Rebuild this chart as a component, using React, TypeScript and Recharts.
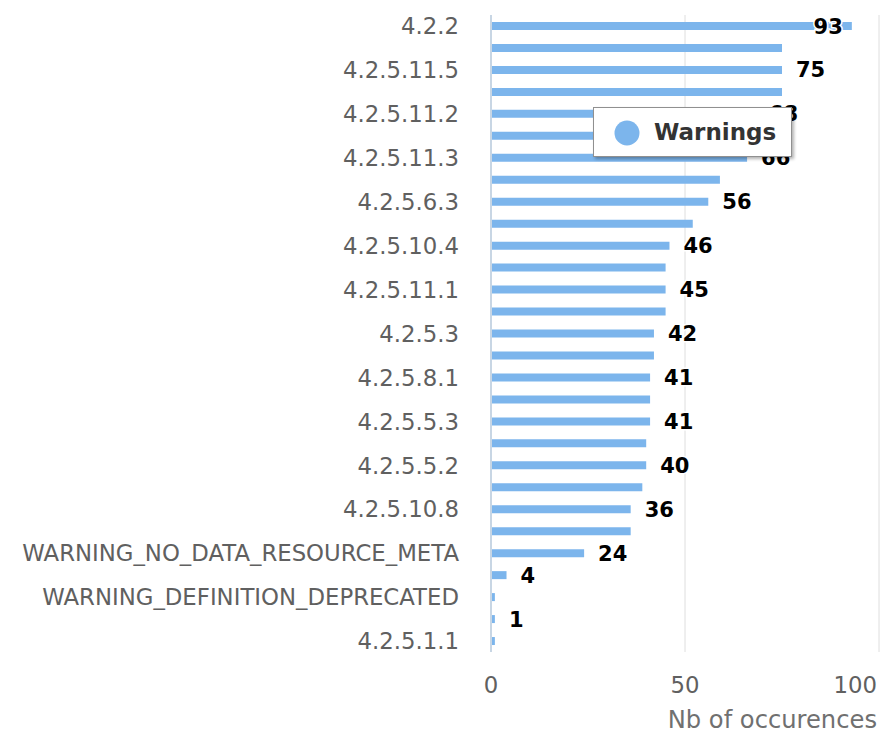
import React from "react";
import {
  Bar,
  BarChart,
  CartesianGrid,
  LabelList,
  Label,
  Legend,
  XAxis,
  YAxis,
} from "recharts";

// category names; null = label skipped by the original axis (name not visible)
const categories: (string | null)[] = [
  "4.2.2", null,
  "4.2.5.11.5", null,
  "4.2.5.11.2", null,
  "4.2.5.11.3", null,
  "4.2.5.6.3", null,
  "4.2.5.10.4", null,
  "4.2.5.11.1", null,
  "4.2.5.3", null,
  "4.2.5.8.1", null,
  "4.2.5.5.3", null,
  "4.2.5.5.2", null,
  "4.2.5.10.8", null,
  "WARNING_NO_DATA_RESOURCE_META", null,
  "WARNING_DEFINITION_DEPRECATED", null,
  "4.2.5.1.1",
];

const warnings = [
  93, 75, 75, 75, 68, 67, 66, 59, 56, 52, 46, 45, 45, 45, 42, 42, 41, 41, 41,
  40, 40, 39, 36, 36, 24, 4, 1, 1, 1,
];

const xTicks = [0, 50, 100];
const seriesName = "Warnings";
const axisTitle = "Nb of occurences";

const data = warnings.map((v, i) => ({ id: i, name: categories[i] ?? "", warnings: v }));

const FONT = "DejaVu Sans, sans-serif";
const BLUE = "#7CB5EC";

const W = 883;
const H = 735;
const MARGIN = { top: 15, right: 4, bottom: 0, left: 0 };
const Y_AXIS_W = 491;
const X_AXIS_H = 83;
const PLOT_LEFT = MARGIN.left + Y_AXIS_W;
const PLOT_RIGHT = W - MARGIN.right;
const X_MAX = 100;

const LABEL_GAP = 14;
const DIGIT_W = 14;
const LABEL_PAD = 5;

// data label placement, hide a label when it collides with the shown one just above
function labelBox(v: number) {
  const end = PLOT_LEFT + (v / X_MAX) * (PLOT_RIGHT - PLOT_LEFT);
  const w = String(v).length * DIGIT_W;
  const inside = end + LABEL_GAP + w > PLOT_RIGHT;
  const start = inside ? end - 9 - w : end + LABEL_GAP;
  return [start - LABEL_PAD, start + w + LABEL_PAD];
}
const showLabel: boolean[] = [];
warnings.forEach((v, i) => {
  if (i === 0 || !showLabel[i - 1]) {
    showLabel.push(true);
    return;
  }
  const [a0, a1] = labelBox(warnings[i - 1]);
  const [b0, b1] = labelBox(v);
  showLabel.push(!(b0 < a1 && a0 < b1));
});

const ValueLabel = (props: any) => {
  const { x, y, width, height, value, index } = props;
  if (!showLabel[index]) return null;
  const end = Number(x) + Number(width);
  const w = String(value).length * DIGIT_W;
  const inside = end + LABEL_GAP + w > PLOT_RIGHT;
  return (
    <text
      x={inside ? end - 9 : end + LABEL_GAP}
      y={Number(y) + Number(height) / 2}
      dy="0.36em"
      textAnchor={inside ? "end" : "start"}
      fontFamily={FONT}
      fontSize={21}
      fontWeight="bold"
      fill="#000"
      stroke="#fff"
      strokeWidth={3}
      paintOrder="stroke"
    >
      {value}
    </text>
  );
};

const CategoryTick = (props: any) => {
  const { x, y, payload } = props;
  const name = categories[payload.value];
  if (!name) return null;
  return (
    <text
      x={x - 32}
      y={y}
      dy="0.36em"
      textAnchor="end"
      fontFamily={FONT}
      fontSize={22.8}
      fill="#606060"
    >
      {name}
    </text>
  );
};

const ValueTick = (props: any) => {
  const { x, y, payload, index } = props;
  const last = index === xTicks.length - 1;
  return (
    <text
      x={last ? x - 2 : x}
      y={y + 41}
      textAnchor={last ? "end" : "middle"}
      fontFamily={FONT}
      fontSize={22.8}
      fill="#606060"
    >
      {payload.value}
    </text>
  );
};

const AxisTitle = (props: any) => {
  const { viewBox } = props;
  return (
    <text
      x={viewBox.x + viewBox.width - 2}
      y={viewBox.y + 76}
      textAnchor="end"
      fontFamily={FONT}
      fontSize={24.2}
      fill="#707070"
    >
      {axisTitle}
    </text>
  );
};

const LegendBox = () => (
  <div
    style={{
      boxSizing: "border-box",
      width: 199,
      height: 50,
      border: "1px solid #909090",
      background: "#fff",
      boxShadow: "2px 2px 3px rgba(0,0,0,0.3)",
      display: "flex",
      alignItems: "center",
      fontFamily: FONT,
    }}
  >
    <svg width={60} height={48} style={{ flex: "none" }}>
      <circle cx={33} cy={25} r={12.5} fill={BLUE} />
    </svg>
    <span style={{ fontSize: 23, fontWeight: "bold", color: "#333" }}>{seriesName}</span>
  </div>
);

export default function App() {
  return (
    <div style={{ position: "absolute", left: 0, top: 0, width: W, height: H, background: "#fff" }}>
      <BarChart width={W} height={H} data={data} layout="vertical" margin={MARGIN}>
        <CartesianGrid horizontal={false} stroke="#DEDEDE" />
        <XAxis
          type="number"
          domain={[0, X_MAX]}
          ticks={xTicks}
          height={X_AXIS_H}
          axisLine={false}
          tickLine={false}
          tickSize={0}
          tickMargin={0}
          tick={<ValueTick />}
          interval={0}
        >
          <Label content={<AxisTitle />} />
        </XAxis>
        <YAxis
          type="category"
          dataKey="id"
          width={Y_AXIS_W}
          interval={0}
          axisLine={{ stroke: "#C8D6E4", strokeWidth: 2 }}
          tickLine={false}
          tickSize={0}
          tickMargin={0}
          tick={<CategoryTick />}
        />
        <Legend
          layout="horizontal"
          verticalAlign="middle"
          align="center"
          content={<LegendBox />}
          wrapperStyle={{ left: 593, top: 107, width: 199, height: 50 }}
        />
        <Bar dataKey="warnings" name={seriesName} fill={BLUE} barSize={8} isAnimationActive={false}>
          <LabelList dataKey="warnings" content={<ValueLabel />} />
        </Bar>
      </BarChart>
    </div>
  );
}
